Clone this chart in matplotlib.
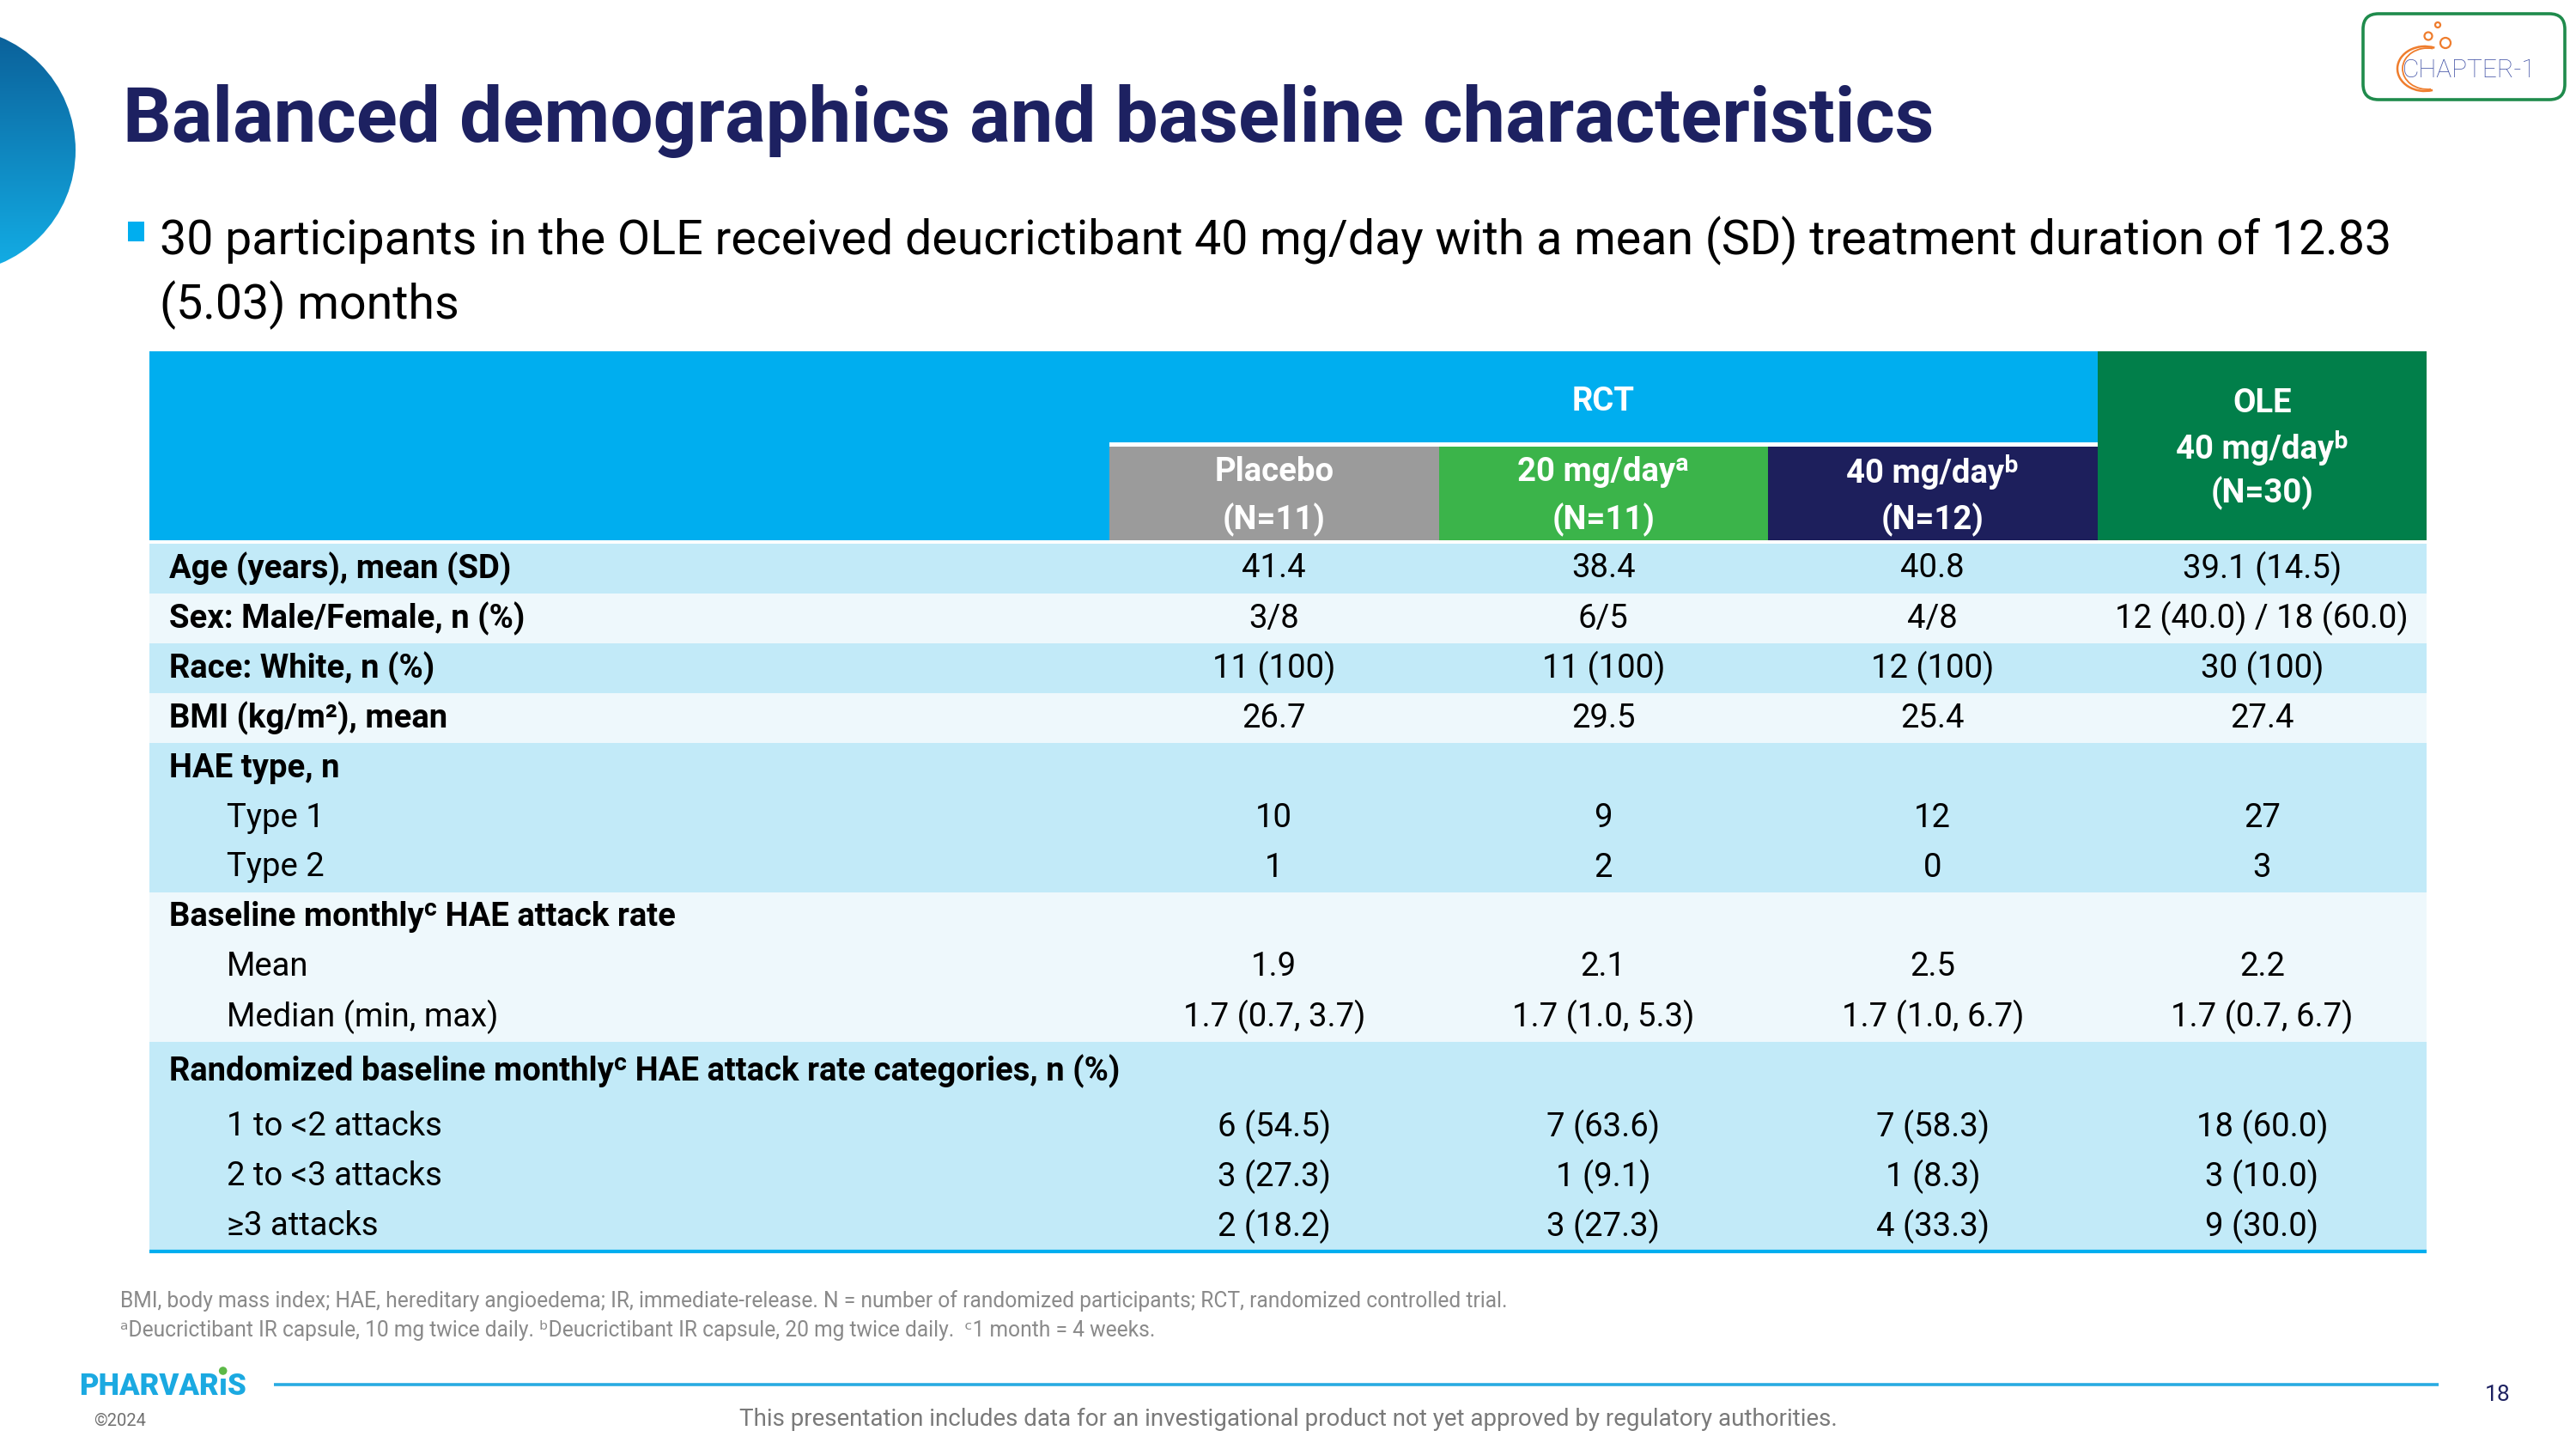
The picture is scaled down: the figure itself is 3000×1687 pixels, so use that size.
import numpy as np
import matplotlib
matplotlib.use("Agg")
import matplotlib.pyplot as plt
from matplotlib.patches import Rectangle, Circle, Arc, FancyBboxPatch
from matplotlib.colors import LinearSegmentedColormap

plt.rcParams['font.family'] = ['Roboto', 'DejaVu Sans']

# ---- data ----
title = "Balanced demographics and baseline characteristics"
bullet_lines = ["30 participants in the OLE received deucrictibant 40 mg/day with a mean (SD) treatment duration of 12.83",
                "(5.03) months"]

group_title = "RCT"
arm_names = ["Placebo", "20 mg/dayᵃ", "40 mg/dayᵇ"]
arm_n = ["(N=11)", "(N=11)", "(N=12)"]
ole_header = ["OLE", "40 mg/dayᵇ", "(N=30)"]

row_labels = ["Age (years), mean (SD)", "Sex: Male/Female, n (%)", "Race: White, n (%)",
              "BMI (kg/m²), mean", "HAE type, n", "Type 1", "Type 2",
              "Baseline monthlyᶜ HAE attack rate", "Mean", "Median (min, max)",
              "Randomized baseline monthlyᶜ HAE attack rate categories, n (%)",
              "1 to <2 attacks", "2 to <3 attacks", "≥3 attacks"]
row_indent = [0, 0, 0, 0, 0, 1, 1, 0, 1, 1, 0, 1, 1, 1]
row_band = [0, 1, 2, 3, 4, 4, 4, 5, 5, 5, 6, 6, 6, 6]

placebo = ["41.4", "3/8", "11 (100)", "26.7", "", "10", "1", "", "1.9", "1.7 (0.7, 3.7)",
           "", "6 (54.5)", "3 (27.3)", "2 (18.2)"]
mg20 = ["38.4", "6/5", "11 (100)", "29.5", "", "9", "2", "", "2.1", "1.7 (1.0, 5.3)",
        "", "7 (63.6)", "1 (9.1)", "3 (27.3)"]
mg40 = ["40.8", "4/8", "12 (100)", "25.4", "", "12", "0", "", "2.5", "1.7 (1.0, 6.7)",
        "", "7 (58.3)", "1 (8.3)", "4 (33.3)"]
ole = ["39.1 (14.5)", "12 (40.0) / 18 (60.0)", "30 (100)", "27.4", "", "27", "3", "", "2.2",
       "1.7 (0.7, 6.7)", "", "18 (60.0)", "3 (10.0)", "9 (30.0)"]

footnotes = ["BMI, body mass index; HAE, hereditary angioedema; IR, immediate-release. N = number of randomized participants; RCT, randomized controlled trial.",
             "ᵃDeucrictibant IR capsule, 10 mg twice daily. ᵇDeucrictibant IR capsule, 20 mg twice daily.  ᶜ1 month = 4 weeks."]
disclaimer = "This presentation includes data for an investigational product not yet approved by regulatory authorities."

# ---- styles ----
NAVY = "#1d2161"
CYAN = "#00aeef"
arm_colors = ["#9b9b9b", "#3bb44a", "#1d1f5c"]
ole_color = "#017f4a"
band_colors = ["#c2eaf8", "#eef8fc"]

W, H = 3000, 1687
fig = plt.figure(figsize=(30, 16.87), dpi=100)
ax = fig.add_axes([0, 0, 1, 1])

# left decorative circle with gradient
circ = Circle((-55, 175), 143, transform=ax.transData)
cmap = LinearSegmentedColormap.from_list("g", ["#0b5e97", "#13afe7"])
im = ax.imshow(np.linspace(0, 1, 256).reshape(-1, 1), extent=[-220, 100, 320, 30],
               cmap=cmap, aspect="auto", origin="upper", zorder=1)
im.set_clip_path(circ)

ax.set_xlim(0, W)
ax.set_ylim(H, 0)
ax.axis("off")

# title + bullet
ax.text(143, 165, title, fontsize=64, fontweight="bold", color=NAVY, va="baseline")
ax.add_patch(Rectangle((149, 258), 19, 23, color=CYAN, lw=0))
for i, line in enumerate(bullet_lines):
    ax.text(186, 296 + 75 * i, line, fontsize=40, color="black", va="baseline")

# ---- table ----
tab_l, tab_r = 174, 2826
col_w = 383.5
ole_l = tab_r - col_w
arm_l = ole_l - 3 * col_w
head_top, sub_top, head_bot = 409, 520, 629
data_top, LH = 633, 58
TS = 27.5

ax.add_patch(Rectangle((tab_l, head_top), ole_l - tab_l, head_bot - head_top, color=CYAN, lw=0))
ax.add_patch(Rectangle((ole_l, head_top), col_w, head_bot - head_top, color=ole_color, lw=0))
ax.add_patch(Rectangle((arm_l, sub_top - 5), 3 * col_w, 5, color="white", lw=0))
ax.text(arm_l + 1.5 * col_w, 467, group_title, fontsize=TS, fontweight="bold", color="white",
        ha="center", va="center")
for j, (nm, n) in enumerate(zip(arm_names, arm_n)):
    x0 = arm_l + j * col_w
    ax.add_patch(Rectangle((x0, sub_top), col_w, head_bot - sub_top, color=arm_colors[j], lw=0))
    ax.text(x0 + col_w / 2, 549, nm, fontsize=TS, fontweight="bold", color="white", ha="center", va="center")
    ax.text(x0 + col_w / 2, 605, n, fontsize=TS, fontweight="bold", color="white", ha="center", va="center")
for k, line in enumerate(ole_header):
    ax.text(ole_l + col_w / 2, 469 + 52.5 * k, line, fontsize=TS, fontweight="bold", color="white",
            ha="center", va="center")

# row positions (randomized block gets a bit more air)
n_rows = len(row_labels)
rand_start = row_labels.index("Randomized baseline monthlyᶜ HAE attack rate categories, n (%)")
row_y = []
for i in range(n_rows):
    extra = 0 if i < rand_start else (5 if i == rand_start else 12)
    row_y.append(data_top + LH * (i + 0.5) + extra)

# band backgrounds
for b in sorted(set(row_band)):
    idx = [i for i in range(n_rows) if row_band[i] == b]
    top = data_top + LH * idx[0]
    bot = data_top + LH * (idx[-1] + 1)
    if idx[-1] == n_rows - 1:
        bot += 12
    ax.add_patch(Rectangle((tab_l, top), tab_r - tab_l, bot - top, color=band_colors[b % 2], lw=0, zorder=0.5))
table_bot = data_top + LH * n_rows + 12
ax.plot([tab_l, tab_r], [table_bot, table_bot], color=CYAN, lw=3, solid_capstyle="butt")

cols = [placebo, mg20, mg40, ole]
for i in range(n_rows):
    y = row_y[i]
    if row_indent[i]:
        ax.text(264, y, row_labels[i], fontsize=TS, color="black", va="center")
    else:
        ax.text(197, y, row_labels[i], fontsize=TS, fontweight="bold", color="black", va="center")
    for j, col in enumerate(cols):
        if col[i]:
            ax.text(arm_l + (j + 0.5) * col_w, y, col[i], fontsize=TS, color="black",
                    ha="center", va="center")

# footnotes
for i, fn in enumerate(footnotes):
    ax.text(140, 1522 + 34 * i, fn, fontsize=17.7, color="#8a8a8a", va="baseline")

# footer
ax.plot([319, 2840], [1612, 1612], color="#29abe2", lw=2.6, solid_capstyle="butt")
ax.text(1500, 1660, disclaimer, fontsize=20, color="#7a7a7a", ha="center", va="baseline")
ax.text(109, 1660, "©2024", fontsize=14.5, color="#707070", va="baseline")
ax.text(2894, 1631, "18", fontsize=19, color=NAVY, va="baseline")

# PHARVARiS wordmark
fig.canvas.draw()
renderer = fig.canvas.get_renderer()
inv = ax.transData.inverted()
x = 92
i_x = None
for piece in ["PHARVAR", "ı", "S"]:
    t = ax.text(x, 1624, piece, fontsize=25, fontweight="black", color="#1ba9e1", va="baseline")
    bb = t.get_window_extent(renderer)
    x0 = inv.transform((bb.x0, 0))[0]
    x1 = inv.transform((bb.x1, 0))[0]
    if piece == "ı":
        i_x = (x0 + x1) / 2
    x = x1
ax.add_patch(Circle((i_x, 1596), 4.8, color="#5cb947", lw=0))

# CHAPTER-1 logo
ax.add_patch(FancyBboxPatch((2752, 16), 235, 100, boxstyle="round,pad=0,rounding_size=18",
                            ec="#1f8b4c", fc="white", lw=2.6))
ax.text(2798, 90, "CHAPTER-1", fontsize=21.5, fontweight="light", color="#4656a8", va="baseline")
ax.add_patch(Arc((2824, 80), 64, 52, theta1=70, theta2=295, color="#ef7d2d", lw=1.8))
ax.add_patch(Arc((2827, 80), 58, 48, theta1=80, theta2=285, color="#ef7d2d", lw=1.3))
for (cx, cy, r) in [(2828, 42, 4.5), (2839, 29, 3), (2848, 50, 6)]:
    ax.add_patch(Circle((cx, cy), r, fill=False, ec="#ef7d2d", lw=1.6))

fig.savefig("out.png", dpi=100)
